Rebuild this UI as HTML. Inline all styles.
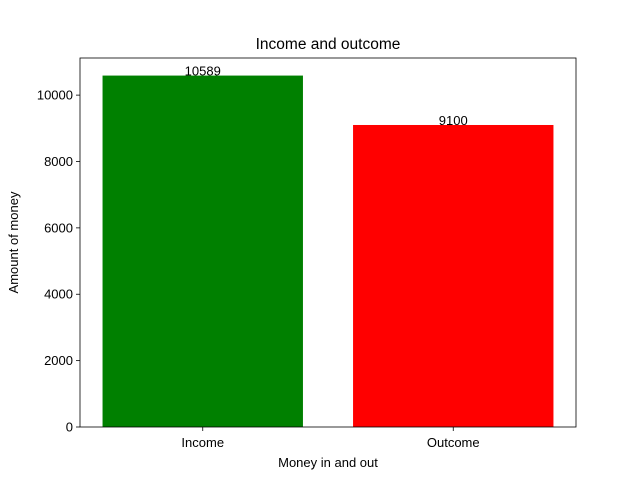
<!DOCTYPE html>
<html><head><meta charset="utf-8"><style>
body{margin:0;background:#fff}
svg{font-family:"Liberation Sans","DejaVu Sans",sans-serif}
</style></head><body>
<svg id="chart" width="640" height="480"></svg>
<script>
const categories=["Income","Outcome"];
const values=[10589,9100];
const colors=["green","red"];
const yTicks=[0,2000,4000,6000,8000,10000];
const NS="http://www.w3.org/2000/svg";
const svg=document.getElementById("chart");
const L=80,R=576,T=58,B=427;
const yMax=Math.max(...values)*1.05;
const xMin=-0.49,xMax=categories.length-1+0.49;
const xs=v=>L+(v-xMin)/(xMax-xMin)*(R-L);
const ys=v=>B-v/yMax*(B-T);
function el(tag,attrs,text){const e=document.createElementNS(NS,tag);for(const k in attrs)e.setAttribute(k,attrs[k]);if(text!==undefined)e.textContent=text;svg.appendChild(e);return e;}
categories.forEach((c,i)=>{
  const r=el("rect",{x:xs(i-0.4),y:ys(values[i]),width:xs(i+0.4)-xs(i-0.4),height:B-ys(values[i]),fill:colors[i]});
  
  
  const t=el("text",{x:xs(i),y:ys(values[i]),"text-anchor":"middle","font-size":"13"},String(values[i]));
  
  
  el("line",{x1:xs(i),x2:xs(i),y1:B,y2:B+4,stroke:"#000","stroke-width":0.8});
  const xl=el("text",{x:xs(i),y:B+20,"text-anchor":"middle","font-size":"13"},c);
  
  
});
yTicks.forEach(v=>{
  el("line",{x1:L-4,x2:L,y1:ys(v),y2:ys(v),stroke:"#000","stroke-width":0.8});
  const t=el("text",{x:L-7,y:ys(v)+4.5,"text-anchor":"end","font-size":"13"},String(v));
  
  
});
const fr=el("rect",{x:L,y:T,width:R-L,height:B-T,fill:"none",stroke:"#000","stroke-width":0.8});


const ti=el("text",{x:(L+R)/2,y:49,"text-anchor":"middle","font-size":"15.5"},"Income and outcome");


const xt=el("text",{x:(L+R)/2,y:467,"text-anchor":"middle","font-size":"13"},"Money in and out");


const yt=el("text",{x:18,y:(T+B)/2,"text-anchor":"middle","font-size":"13",transform:"rotate(-90 18 "+((T+B)/2)+")"},"Amount of money");


</script>
</body></html>
